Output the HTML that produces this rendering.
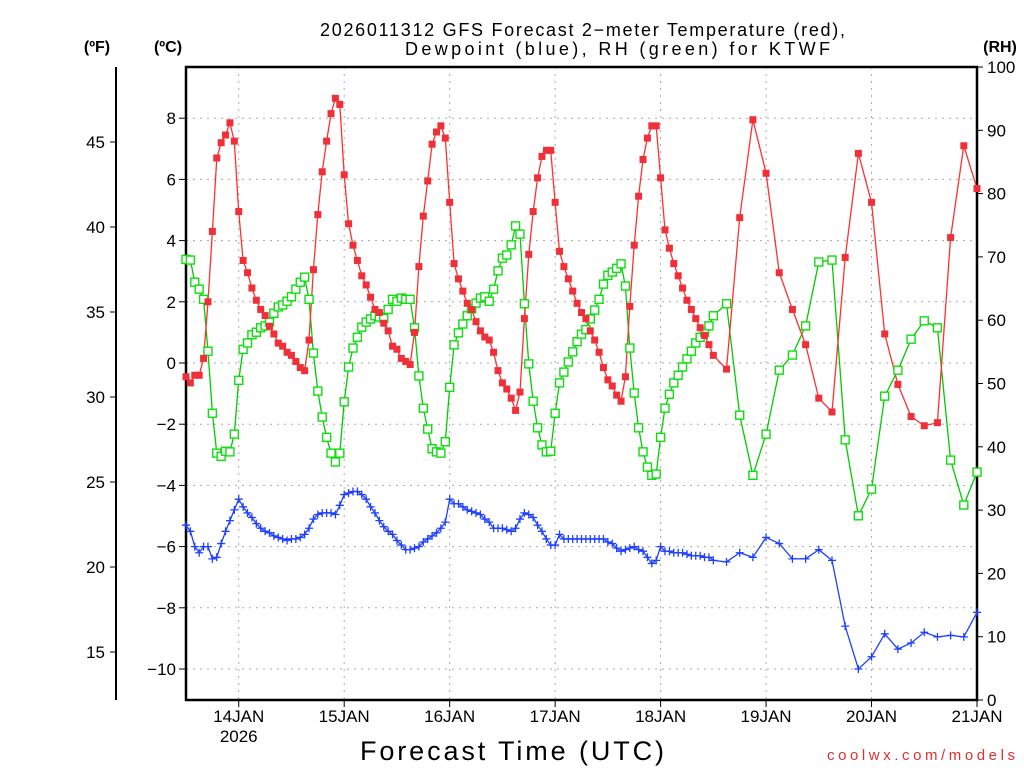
<!DOCTYPE html>
<html><head><meta charset="utf-8"><style>
html,body{margin:0;padding:0;background:#fff;}
svg{display:block;font-family:"Liberation Sans",sans-serif;}
</style></head><body>
<svg id="chart" width="1024" height="768" viewBox="0 0 1024 768">
<text x="320" y="36" font-size="18" textLength="525" lengthAdjust="spacing">2026011312 GFS Forecast 2−meter Temperature (red),</text>
<text x="405" y="55" font-size="18" textLength="425" lengthAdjust="spacing">Dewpoint (blue), RH (green) for KTWF</text>
<text x="97" y="52" text-anchor="middle" font-size="16" font-weight="bold">(ºF)</text>
<text x="168" y="52" text-anchor="middle" font-size="16" font-weight="bold">(ºC)</text>
<text x="1000" y="52" text-anchor="middle" font-size="16" font-weight="bold">(RH)</text>
<text x="360" y="760" font-size="27" textLength="304" lengthAdjust="spacing">Forecast Time (UTC)</text>
<text x="827" y="760" font-size="15" fill="#e03030" textLength="188" lengthAdjust="spacing">coolwx.com/models</text>
<g id="grid"></g>
<g id="axes"></g>
<g id="series"></g>
</svg>
<script>
const tempC = [-0.45,-0.65,-0.4,-0.4,0.15,2.0,4.3,6.7,7.2,7.45,7.85,7.25,4.95,3.35,2.95,2.45,2.05,1.75,1.55,1.2,0.95,0.65,0.55,0.35,0.25,0.05,-0.15,-0.25,0.75,3.05,4.85,6.25,7.25,8.15,8.65,8.45,6.15,4.55,3.85,3.35,2.85,2.55,2.15,1.75,1.65,1.3,1.05,0.55,0.45,0.15,0.05,-0.05,1.0,3.15,4.8,5.95,7.15,7.55,7.75,7.35,5.25,3.25,2.75,2.35,1.95,1.75,1.35,1.05,0.85,0.75,0.35,-0.25,-0.65,-0.85,-1.15,-1.55,-0.95,1.45,3.55,4.95,6.05,6.75,6.95,6.95,5.25,3.65,3.15,2.75,2.35,1.95,1.65,1.45,1.05,0.75,0.35,-0.15,-0.55,-0.75,-1.05,-1.25,-0.45,1.85,3.85,5.45,6.65,7.35,7.75,7.75,6.05,4.35,3.75,3.25,2.85,2.45,2.05,1.75,1.45,1.15,0.9,0.6,0.25,-0.2,4.75,7.95,6.2,2.95,1.75,0.6,-1.15,-1.6,3.45,6.85,5.25,0.95,-0.7,-1.75,-2.05,-1.95,4.1,7.1,5.7];
const dewC = [-5.3,-5.5,-6.0,-6.2,-6.0,-6.0,-6.4,-6.35,-5.9,-5.5,-5.15,-4.8,-4.45,-4.7,-4.9,-5.05,-5.25,-5.4,-5.5,-5.55,-5.65,-5.7,-5.75,-5.8,-5.75,-5.75,-5.7,-5.6,-5.4,-5.1,-4.95,-4.9,-4.9,-4.9,-4.95,-4.65,-4.3,-4.25,-4.2,-4.2,-4.3,-4.45,-4.7,-4.9,-5.15,-5.35,-5.5,-5.6,-5.8,-5.95,-6.1,-6.1,-6.05,-6.0,-5.85,-5.75,-5.65,-5.55,-5.4,-5.2,-4.45,-4.6,-4.6,-4.7,-4.8,-4.85,-4.9,-4.95,-5.1,-5.2,-5.4,-5.4,-5.4,-5.45,-5.5,-5.4,-5.1,-4.9,-4.95,-5.05,-5.3,-5.5,-5.75,-5.95,-5.95,-5.6,-5.75,-5.75,-5.75,-5.75,-5.75,-5.75,-5.75,-5.75,-5.75,-5.75,-5.85,-5.9,-6.05,-6.15,-6.1,-6.05,-6.0,-6.1,-6.15,-6.35,-6.55,-6.45,-6.0,-6.15,-6.15,-6.2,-6.2,-6.2,-6.25,-6.3,-6.3,-6.3,-6.35,-6.35,-6.45,-6.5,-6.2,-6.35,-5.7,-5.9,-6.4,-6.4,-6.1,-6.45,-8.6,-10.0,-9.6,-8.85,-9.35,-9.15,-8.8,-8.95,-8.9,-8.95,-8.15];
const rhPct = [69.6,69.5,66.0,64.9,63.3,55.1,45.3,39.0,38.5,39.3,39.2,42.0,50.5,55.4,56.4,57.7,58.1,58.8,59.1,59.7,61.1,62.1,62.4,63.0,63.7,64.9,66.0,66.8,63.3,54.8,48.8,44.7,41.5,39.0,37.6,39.0,47.1,52.6,55.6,57.3,58.9,59.7,60.2,60.7,60.5,60.3,61.7,63.3,63.0,63.5,63.3,63.3,58.8,51.2,46.1,42.8,39.7,39.2,39.0,40.8,49.4,56.1,58.0,59.4,60.7,61.8,62.7,63.5,63.7,63.0,64.9,67.8,69.8,70.3,71.9,74.9,73.6,62.6,53.1,47.2,43.0,40.3,39.2,39.3,45.3,50.1,51.8,53.4,55.0,56.6,57.8,58.5,60.2,61.6,63.3,65.7,67.1,67.6,68.2,68.9,65.4,55.6,48.5,43.0,39.2,36.8,35.5,35.7,41.5,46.1,48.3,50.1,51.3,52.6,53.9,55.1,56.4,57.3,58.1,59.1,60.7,62.6,45.0,35.5,42.0,52.1,54.5,59.1,69.2,69.5,41.1,29.1,33.3,48.0,52.1,57.0,59.9,58.8,37.9,30.8,36.0];
const celsiusTicks = [8,6,4,2,0,-2,-4,-6,-8,-10];
const fahrenheitTicks = [45,40,35,30,25,20,15];
const rhTicks = [100,90,80,70,60,50,40,30,20,10,0];
const dayLabels = ["14JAN","15JAN","16JAN","17JAN","18JAN","19JAN","20JAN","21JAN"];
const dayHours = [12,36,60,84,108,132,156,180];

const hours = [];
for (let h = 0; h <= 120; h++) hours.push(h);
for (let h = 123; h <= 180; h += 3) hours.push(h);

const L = 186, R = 977, T = 67, B = 700;
const xs = h => L + (h / 180) * (R - L);
const yC = c => 363 - c * 30.6;
const yF = f => yC((f - 32) / 1.8);
const yRH = r => B - (r / 100) * (B - T);
const NS = "http://www.w3.org/2000/svg";
function mk(tag, attrs, parent) {
  const e = document.createElementNS(NS, tag);
  for (const k in attrs) e.setAttribute(k, attrs[k]);
  parent.appendChild(e);
  return e;
}
const grid = document.getElementById('grid');
const axes = document.getElementById('axes');
const series = document.getElementById('series');

celsiusTicks.forEach(c => {
  const y = yC(c);
  const g = mk('line', {x1: L, x2: R, y1: y, y2: y, stroke: '#aaa', 'stroke-dasharray': '2,5'}, grid);
  
  
  const t = mk('line', {x1: L - 7, x2: L, y1: y, y2: y, stroke: '#000'}, axes);
  
  
  const lb = mk('text', {x: L - 10, y: y + 6, 'text-anchor': 'end', 'font-size': 17}, axes);
  lb.textContent = c < 0 ? '−' + Math.abs(c) : String(c);
  
  
});
dayHours.forEach((h, i) => {
  const x = xs(h);
  if (i < dayHours.length - 1) {
    const g = mk('line', {x1: x, x2: x, y1: T, y2: B, stroke: '#aaa', 'stroke-dasharray': '2,5'}, grid);
    
    
  }
  const t = mk('line', {x1: x, x2: x, y1: B, y2: B + 7, stroke: '#000'}, axes);
  
  
  const lb = mk('text', {x: x, y: B + 22, 'text-anchor': 'middle', 'font-size': 17}, axes);
  lb.textContent = dayLabels[i];
  
  
});
const yr = mk('text', {x: xs(12), y: B + 42, 'text-anchor': 'middle', 'font-size': 17}, axes);
yr.textContent = '2026';



const frame = mk('rect', {x: L, y: T, width: R - L, height: B - T, fill: 'none', stroke: '#000', 'stroke-width': 2.5}, axes);



const fl = mk('line', {x1: 116, x2: 116, y1: T, y2: B, stroke: '#000', 'stroke-width': 2}, axes);


fahrenheitTicks.forEach(f => {
  const y = yF(f);
  const t = mk('line', {x1: 110, x2: 116, y1: y, y2: y, stroke: '#000'}, axes);
  
  
  const lb = mk('text', {x: 105, y: y + 6, 'text-anchor': 'end', 'font-size': 17}, axes);
  lb.textContent = String(f);
  
  
});
rhTicks.forEach(r => {
  const y = yRH(r);
  const t = mk('line', {x1: R, x2: R + 6, y1: y, y2: y, stroke: '#000'}, axes);
  
  
  const lb = mk('text', {x: R + 10, y: y + 6, 'font-size': 17}, axes);
  lb.textContent = String(r);
  
  
});

function drawLine(vals, yfn, color, name) {
  const pts = vals.map((v, i) => xs(hours[i]).toFixed(1) + ',' + yfn(v).toFixed(1)).join(' ');
  const pl = mk('polyline', {points: pts, fill: 'none', stroke: color, 'stroke-width': 1.3}, series);
  
  
}
drawLine(rhPct, yRH, '#00cc00', 'rh-line');
drawLine(tempC, yC, '#ff3030', 'temperature-line');
drawLine(dewC, yC, '#2040ff', 'dewpoint-line');

rhPct.forEach((v, i) => {
  const m = mk('rect', {x: xs(hours[i]) - 4, y: yRH(v) - 4, width: 8, height: 8, fill: '#fff', stroke: '#10dd10', 'stroke-width': 1.4}, series);
  
  
});
tempC.forEach((v, i) => {
  const m = mk('rect', {x: xs(hours[i]) - 3.5, y: yC(v) - 3.5, width: 7, height: 7, fill: '#f03038'}, series);
  
  
});
dewC.forEach((v, i) => {
  const x = xs(hours[i]), y = yC(v);
  const m = mk('path', {d: `M${x-4},${y}H${x+4}M${x},${y-4}V${y+4}`, stroke: '#2040ff', 'stroke-width': 1.3}, series);
  
  
});
</script>
</body></html>
